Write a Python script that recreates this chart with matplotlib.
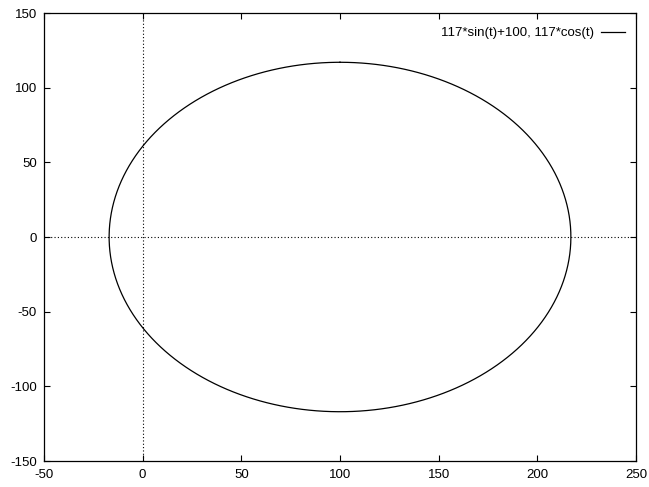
import numpy as np
import matplotlib
matplotlib.use("Agg")
import matplotlib.pyplot as plt

plt.rcParams['font.family'] = ['Liberation Sans', 'DejaVu Sans']
plt.rcParams['axes.unicode_minus'] = False

# Parametric curve parameters (from legend)
radius = 117
x_offset = 100
label = "117*sin(t)+100, 117*cos(t)"
xlim = (-50, 250)
ylim = (-150, 150)
xticks = [-50, 0, 50, 100, 150, 200, 250]
yticks = [-150, -100, -50, 0, 50, 100, 150]

t = np.linspace(0, 2 * np.pi, 400)
x = radius * np.sin(t) + x_offset
y = radius * np.cos(t)

fig = plt.figure(figsize=(6.49, 4.87), dpi=100)
ax = fig.add_axes([44/649, 26/487, 592/649, 448/487])
ax.axhline(0, color='black', lw=0.8, ls=(0, (1, 2)))
ax.axvline(0, color='black', lw=0.8, ls=(0, (1, 2)))
ax.plot(x, y, color='black', lw=0.9, label=label)
ax.set_xlim(*xlim)
ax.set_ylim(*ylim)
ax.set_xticks(xticks)
ax.set_yticks(yticks)
ax.tick_params(direction='in', top=True, right=True, length=4, width=0.8, labelsize=9.5)
ax.tick_params(axis='x', pad=5.5)
ax.tick_params(axis='y', pad=5)
for s in ax.spines.values():
    s.set_linewidth(0.9)
leg = ax.legend(loc='upper right', frameon=False, markerfirst=False, fontsize=9.5,
                handlelength=1.85, handletextpad=0.5, borderaxespad=0.0,
                bbox_to_anchor=(1 - 11/592, 1 - 14/448), borderpad=0.0)
fig.savefig("out.png", dpi=100)
